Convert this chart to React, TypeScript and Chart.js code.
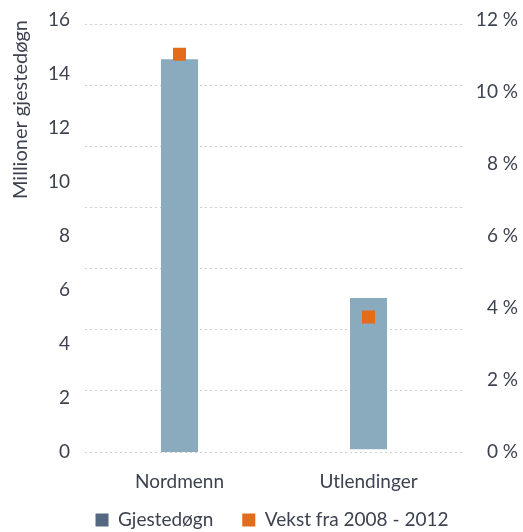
import React, { useEffect, useRef } from "react";
import { Chart, registerables } from "chart.js";

Chart.register(...registerables);

const categories = ["Nordmenn", "Utlendinger"];
// floating bars as drawn in the reference [start, end] in millions
const gjestedogn: [number, number][] = [[-0.1, 14.55], [0.1, 5.7]];
const vekst = [11.05, 3.75];
const leftTicks = [0, 2, 4, 6, 8, 10, 12, 14, 16];
const rightTicks = [0, 2, 4, 6, 8, 10, 12];
const gridLines = [0, 1, 2, 3, 4, 5, 6, 7];

const TEXT = "#3d4250";
const FONT = "Lato";

const legendShift = {
  id: "legendShift",
  afterLayout(chart: any) {
    const lg = chart.legend;
    if (lg) {
      lg.top -= 12.5;
      lg.bottom = chart.height;
      lg.left += 13;
      lg.right += 13;
    }
  },
};

export default function App() {
  const ref = useRef<HTMLCanvasElement>(null);
  useEffect(() => {
    const chart = new Chart(ref.current!, {
      type: "bar",
      plugins: [legendShift],
      data: {
        labels: categories,
        datasets: [
          {
            type: "bar",
            label: "Gjestedøgn",
            data: gjestedogn as any,
            backgroundColor: "#8AAABE",
            yAxisID: "y",
            categoryPercentage: 1,
            barPercentage: 0.196,
            order: 2,
          },
          {
            type: "line",
            label: "Vekst fra 2008 - 2012",
            data: vekst,
            yAxisID: "y2",
            showLine: false,
            pointStyle: "rect",
            pointRadius: 9.2,
            pointBackgroundColor: "#E36C1A",
            pointBorderWidth: 0,
            order: 1,
          } as any,
        ],
      },
      options: {
        animation: false,
        responsive: true,
        maintainAspectRatio: false,
        layout: { padding: { top: 20, right: 5, bottom: 0, left: 0 } },
        plugins: {
          tooltip: { enabled: false },
          legend: {
            position: "bottom",
            maxHeight: 38,
            labels: {
              font: { family: FONT, size: 19 },
              color: TEXT,
              boxWidth: 13,
              boxHeight: 13,
              padding: 29,
              generateLabels: () => [
                { text: "Gjestedøgn", fillStyle: "#566782", strokeStyle: "#566782", lineWidth: 0, datasetIndex: 0, fontColor: TEXT },
                { text: "Vekst fra 2008 - 2012", fillStyle: "#E36C1A", strokeStyle: "#E36C1A", lineWidth: 0, datasetIndex: 1, fontColor: TEXT },
              ] as any,
            },
          } as any,
        },
        scales: {
          x: {
            grid: { display: false, drawTicks: false },
            border: { display: false },
            ticks: { font: { family: FONT, size: 19 }, color: TEXT, padding: 18 },
            afterFit: (s: any) => {
              s.height = 42;
            },
          },
          g: {
            type: "linear",
            position: "left",
            min: 0,
            max: 7.08,
            afterBuildTicks: (s: any) => {
              s.ticks = gridLines.map((v) => ({ value: v }));
            },
            afterFit: (s: any) => {
              s.width = 0;
              s.paddingTop = 0;
              s.paddingBottom = 0;
            },
            ticks: { display: false },
            border: { display: false, dash: [2, 3] },
            grid: { color: "#cfcfcf", drawTicks: false, lineWidth: 1 },
          } as any,
          y: {
            type: "linear",
            position: "left",
            min: 0,
            max: 16,
            afterBuildTicks: (s: any) => {
              s.ticks = leftTicks.map((v) => ({ value: v }));
            },
            afterFit: (s: any) => {
              s.width = 85;
              s.paddingTop = 0;
              s.paddingBottom = 0;
            },
            grid: { display: false, drawTicks: false },
            border: { display: false },
            ticks: { font: { family: FONT, size: 19 }, color: TEXT, padding: 15 },
            title: {
              display: true,
              text: "Millioner gjestedøgn",
              align: "end",
              font: { family: FONT, size: 20 },
              color: TEXT,
              padding: { top: 9, bottom: 0 },
            },
          },
          y2: {
            type: "linear",
            position: "right",
            min: 0,
            max: 12,
            afterBuildTicks: (s: any) => {
              s.ticks = rightTicks.map((v) => ({ value: v }));
            },
            afterFit: (s: any) => {
              s.width = 55;
              s.paddingTop = 0;
              s.paddingBottom = 0;
            },
            grid: { display: false, drawTicks: false },
            border: { display: false },
            ticks: {
              font: { family: FONT, size: 19 },
              color: TEXT,
              crossAlign: "far",
              callback: (v: any) => `${v} %`,
            },
          },
        },
      },
    });
    return () => chart.destroy();
  }, []);
  return (
    <div style={{ position: "fixed", left: 0, top: 0, width: 523, height: 532 }}>
      <canvas ref={ref} />
    </div>
  );
}
